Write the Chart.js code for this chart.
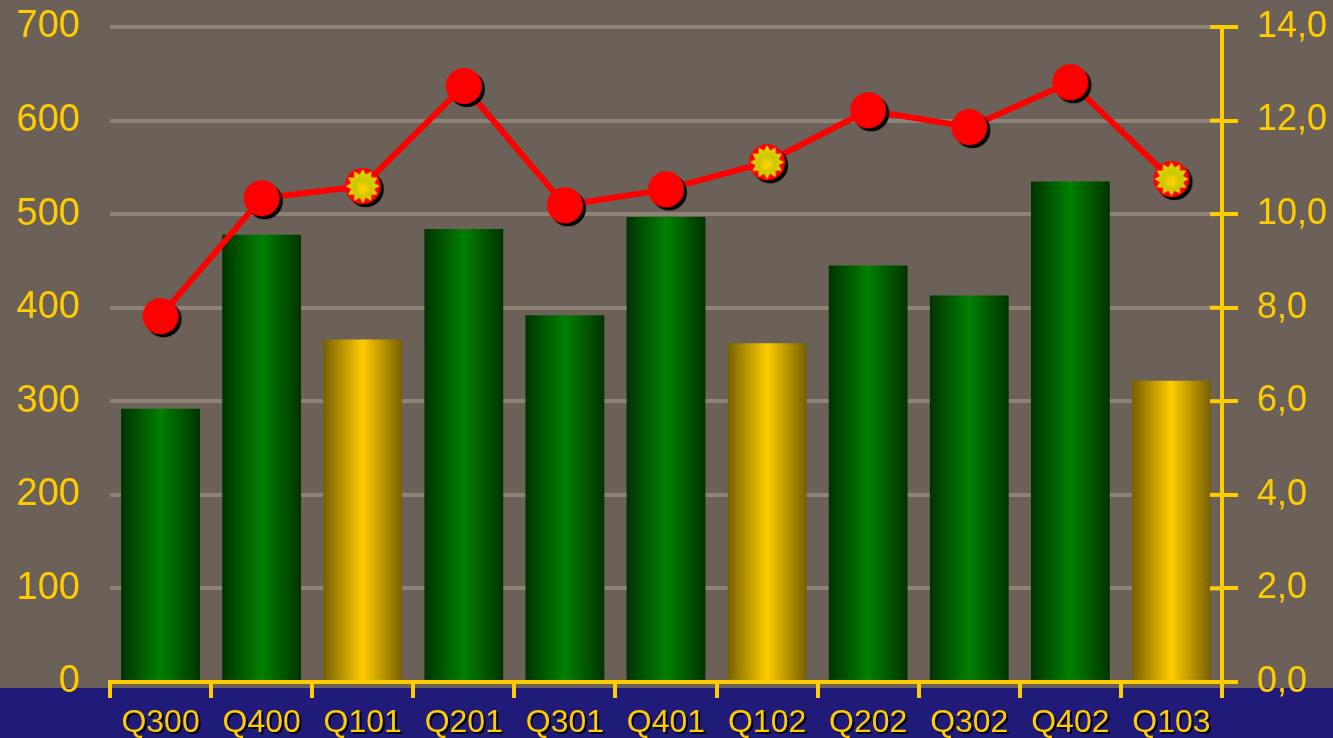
<!DOCTYPE html>
<html>
<head>
<meta charset="utf-8">
<script src="https://cdn.jsdelivr.net/npm/chart.js@4"></script>
<style>
  html, body { margin: 0; padding: 0; background: #6b6158; }
  #wrap { width: 1333px; height: 738px; position: relative; }
</style>
</head>
<body>
<div id="wrap"><canvas id="myChart"></canvas></div>
<script>
const quarters = ['Q300', 'Q400', 'Q101', 'Q201', 'Q301', 'Q401', 'Q102', 'Q202', 'Q302', 'Q402', 'Q103'];
const barVals = [292, 478, 366, 484, 392, 497, 362, 445, 413, 535, 322];
const lineVals = [7.82, 10.34, 10.6, 12.74, 10.19, 10.53, 11.11, 12.22, 11.86, 12.82, 10.75];

const yellow = '#ffcc00';
const barPct = 0.78;

// first quarters get the yellow look
function isQ1(i) {
    return quarters[i].startsWith('Q1');
}

function makeMarker(star) {
    const c = document.createElement('canvas');
    c.width = 50;
    c.height = 50;
    const g = c.getContext('2d');
    g.fillStyle = '#000';
    g.beginPath();
    g.arc(28, 28, 18, 0, Math.PI * 2);
    g.fill();
    g.fillStyle = '#ff0000';
    g.beginPath();
    g.arc(25, 25, 18, 0, Math.PI * 2);
    g.fill();
    if (star) {
        const grad = g.createRadialGradient(25, 28, 2, 25, 25, 17);
        grad.addColorStop(0, '#ffd000');
        grad.addColorStop(0.45, '#c8c800');
        grad.addColorStop(1, '#f0e000');
        g.fillStyle = grad;
        g.beginPath();
        for (let k = 0; k < 24; k++) {
            const r = k % 2 == 0 ? 17 : 12;
            const a = k * Math.PI / 12 - Math.PI / 2;
            const px = 25 + r * Math.cos(a);
            const py = 25 + r * Math.sin(a);
            if (k == 0) g.moveTo(px, py); else g.lineTo(px, py);
        }
        g.closePath();
        g.fill();
    }
    return c;
}

const redDot = makeMarker(false);
const starDot = makeMarker(true);

function barGradient(ctx) {
    const chart = ctx.chart;
    if (!chart.chartArea) return yellow;
    const xs = chart.scales.x;
    const cx = xs.getPixelForValue(ctx.dataIndex);
    const w = (xs.width / quarters.length) * barPct;
    const g = chart.ctx.createLinearGradient(cx - w / 2, 0, cx + w / 2, 0);
    if (isQ1(ctx.dataIndex)) {
        g.addColorStop(0, '#776000');
        g.addColorStop(0.5, '#ffcc00');
        g.addColorStop(1, '#776000');
    } else {
        g.addColorStop(0, '#003300');
        g.addColorStop(0.5, '#008000');
        g.addColorStop(1, '#003300');
    }
    return g;
}

const backdrop = {
    id: 'backdrop',
    beforeDraw(chart) {
        const c = chart.ctx;
        c.save();
        c.fillStyle = '#6b6158';
        c.fillRect(0, 0, chart.width, chart.height);
        c.fillStyle = '#201b78';
        c.fillRect(0, chart.chartArea.bottom + 6, chart.width, chart.height);
        c.restore();
        // shadow under the category labels
        const xs = chart.scales.x;
        if (!xs._shadowed) {
            const orig = xs.drawLabels;
            xs.drawLabels = function (area) {
                const k = this.ctx;
                k.save();
                k.shadowColor = '#000';
                k.shadowOffsetX = 2;
                k.shadowOffsetY = 2;
                orig.call(this, area);
                k.restore();
            };
            xs._shadowed = true;
        }
    },
    afterDraw(chart) {
        // inner half of the right axis ticks
        const c = chart.ctx;
        const ys = chart.scales.y1;
        c.save();
        c.strokeStyle = yellow;
        c.lineWidth = 4;
        ys.ticks.forEach(t => {
            const y = ys.getPixelForValue(t.value);
            c.beginPath();
            c.moveTo(chart.chartArea.right - 12, y);
            c.lineTo(chart.chartArea.right, y);
            c.stroke();
        });
        c.restore();
    }
};

function noPad(scale) {
    scale.paddingTop = 0;
    scale.paddingBottom = 0;
}

var mychart = new Chart('myChart', {
    data: {
        labels: quarters,
        datasets: [{
            type: 'line',
            data: lineVals,
            yAxisID: 'y1',
            borderColor: '#ff0000',
            borderWidth: 6,
            pointStyle: lineVals.map((v, i) => isQ1(i) ? starDot : redDot),
            order: 0,
        },
        {
            type: 'bar',
            data: barVals,
            yAxisID: 'y',
            backgroundColor: barGradient,
            barPercentage: barPct,
            categoryPercentage: 1,
            order: 1,
        }]
    },
    plugins: [backdrop],
    options: {
        responsive: true,
        maintainAspectRatio: false,
        animation: false,
        layout: { padding: { top: 27, left: 0, right: 0, bottom: 0 } },
        plugins: {
            legend: { display: false },
            tooltip: { enabled: false },
        },
        scales: {
            x: {
                offset: true,
                grid: {
                    drawOnChartArea: false,
                    color: yellow,
                    lineWidth: 4,
                    tickLength: 16,
                },
                border: { color: yellow, width: 4 },
                ticks: {
                    color: yellow,
                    font: { family: 'Liberation Sans', size: 32 },
                    padding: 6,
                    maxRotation: 0,
                    autoSkip: false,
                },
                afterFit(scale) { scale.height = 56; },
            },
            y: {
                position: 'left',
                min: 0,
                max: 700,
                grid: {
                    color: '#8f8378',
                    lineWidth: 4,
                    drawTicks: false,
                },
                border: { display: false },
                ticks: {
                    stepSize: 100,
                    color: yellow,
                    font: { family: 'Liberation Sans', size: 38 },
                    padding: 30,
                },
                afterFit(scale) { scale.width = 110; noPad(scale); },
            },
            y1: {
                position: 'right',
                min: 0,
                max: 14,
                grid: {
                    drawOnChartArea: false,
                    color: yellow,
                    lineWidth: 4,
                    tickLength: 16,
                },
                border: { color: yellow, width: 4 },
                ticks: {
                    stepSize: 2,
                    color: yellow,
                    font: { family: 'Liberation Sans', size: 36 },
                    padding: 19,
                    callback: v => v.toFixed(1).replace('.', ','),
                },
                afterFit(scale) { scale.width = 111; noPad(scale); },
            },
        },
    },
});
</script>
</body>
</html>
